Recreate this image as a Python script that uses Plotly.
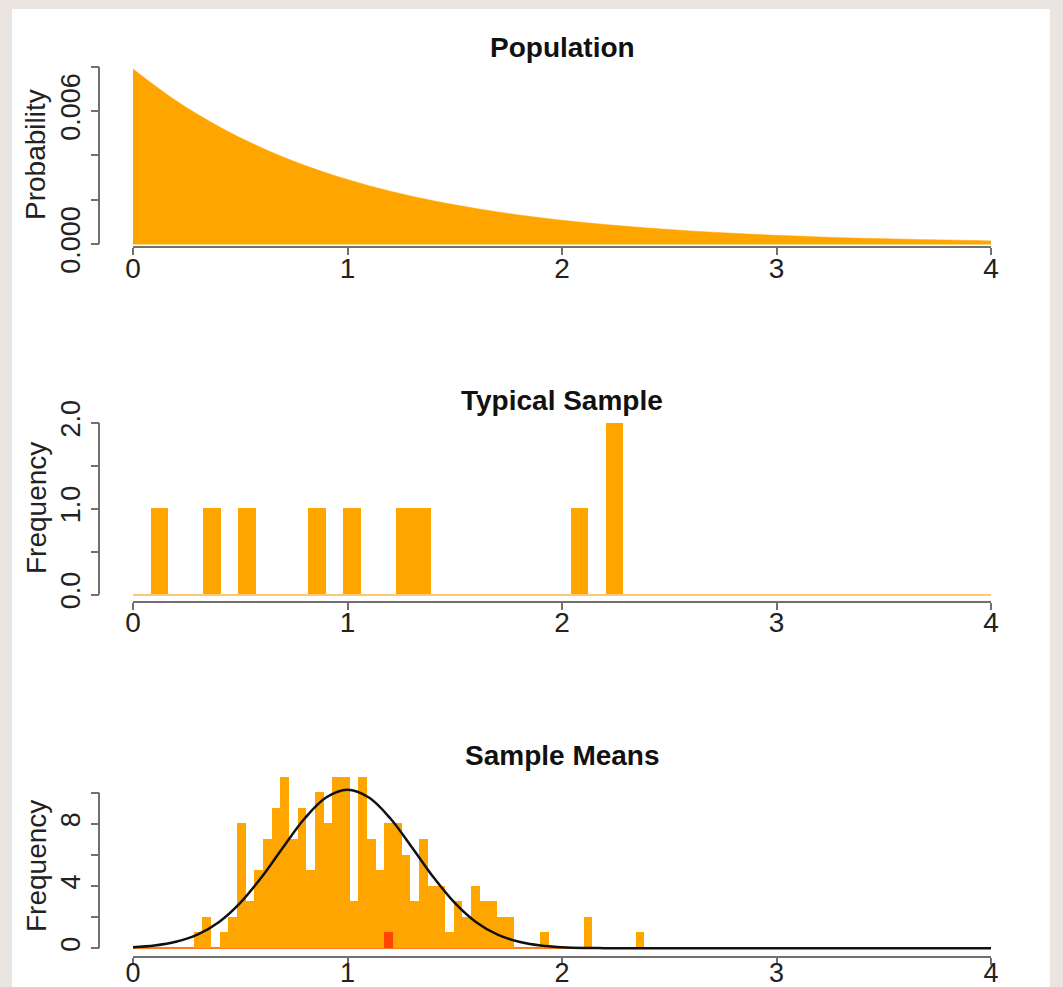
import plotly.graph_objects as go

W, H = 1063, 987

# ---------------- data ----------------
# Population distribution (probability per fine bin)
pop_x = [0.0, 0.2, 0.4, 0.6, 0.8, 1.0, 1.2, 1.4, 1.6, 1.8, 2.0,
         2.2, 2.4, 2.6, 2.8, 3.0, 3.2, 3.4, 3.6, 3.8, 4.0]
pop_prob = [0.00790, 0.00647, 0.00530, 0.00434, 0.00355, 0.00291, 0.00238,
            0.00195, 0.00160, 0.00131, 0.00107, 0.00088, 0.00072, 0.00059,
            0.00048, 0.00039, 0.00032, 0.00026, 0.00022, 0.00018, 0.00014]

# Typical sample histogram (49 bins over 0..4)
sample_bin_width = 4 / 49
sample_bins = [1, 4, 6, 10, 12, 15, 16, 25, 27]
sample_freq = [1, 1, 1, 1, 1, 1, 1, 1, 2]

# Sample means histogram (99 bins over 0..4), bins 7..58
means_bin_width = 4 / 99
means_first_bin = 7
means_freq = [1, 2, 0, 1, 2, 8, 3, 5, 7, 9, 11, 7, 9, 5, 10, 8, 11, 11, 3, 11,
              7, 5, 8, 8, 6, 3, 7, 4, 4, 1, 3, 2, 4, 3, 3, 2, 2, 0, 0, 0,
              1, 0, 0, 0, 0, 2, 0, 0, 0, 0, 0, 1]
highlight_bin = 29
highlight_freq = 1

# Normal approximation curve
curve_x = [0.0, 0.1, 0.2, 0.3, 0.4, 0.5, 0.6, 0.7, 0.8, 0.9, 1.0, 1.1, 1.2,
           1.3, 1.4, 1.5, 1.6, 1.7, 1.8, 1.9, 2.0, 2.1, 2.2, 2.5, 3.0, 3.5, 4.0]
curve_y = [0.07, 0.18, 0.42, 0.88, 1.68, 2.92, 4.58, 6.50, 8.34, 9.69, 10.19,
           9.69, 8.34, 6.50, 4.58, 2.92, 1.68, 0.88, 0.42, 0.18, 0.07, 0.02,
           0.01, 0.0, 0.0, 0.0, 0.0]

x_ticks = [0, 1, 2, 3, 4]
titles = ["Population", "Typical Sample", "Sample Means"]
ylabels = ["Probability", "Frequency", "Frequency"]

# ---------------- helpers ----------------
def px(x):
    return x / W


def py(y):
    return 1 - y / H


ORANGE = "#FFA500"
AXIS = "#707070"
BEIGE = "#EBE5E1"
FONT = "Liberation Sans, Arial, Helvetica, sans-serif"

fig = go.Figure()

fig.add_trace(go.Scatter(x=pop_x, y=pop_prob, mode="lines", fill="tozeroy",
                         fillcolor=ORANGE,
                         line=dict(color=ORANGE, width=0.5, shape="spline"),
                         xaxis="x", yaxis="y", hoverinfo="skip"))

fig.add_trace(go.Bar(x=[(b + 0.5) * sample_bin_width for b in sample_bins],
                     y=sample_freq, width=sample_bin_width,
                     marker=dict(color=ORANGE, line=dict(width=0)),
                     xaxis="x2", yaxis="y2"))

fig.add_trace(go.Bar(x=[(means_first_bin + i + 0.5) * means_bin_width
                        for i in range(len(means_freq))],
                     y=means_freq, width=means_bin_width,
                     marker=dict(color=ORANGE, line=dict(width=0)),
                     xaxis="x3", yaxis="y3"))

fig.add_trace(go.Bar(x=[(highlight_bin + 0.5) * means_bin_width],
                     y=[highlight_freq], width=means_bin_width,
                     marker=dict(color="#FF4500", line=dict(width=0)),
                     xaxis="x3", yaxis="y3"))

fig.add_trace(go.Scatter(x=curve_x, y=curve_y, mode="lines",
                         line=dict(color="#111111", width=2.5, shape="spline"),
                         xaxis="x3", yaxis="y3", hoverinfo="skip"))

panels = [
    dict(zero=244.0, ppu=177.3 / 0.008, rng=[-0.0002, 0.0085], xline=247,
         tv=[0, 0.002, 0.004, 0.006, 0.008], tt=["0.000", "", "", "0.006", ""],
         ytop=0.008, zc="#F2D77E", zw=1.5, ty=47, ly=155, so=-11),
    dict(zero=594.5, ppu=85.9, rng=[-0.05, 2.1], xline=601.5,
         tv=[0, 0.5, 1, 1.5, 2], tt=["0.0", "", "1.0", "", "2.0"],
         ytop=2, zc="#FFC870", zw=2, ty=401, ly=508, so=-11),
    dict(zero=948.3, ppu=15.56, rng=[-0.3, 11.5], xline=956.5,
         tv=[0, 2, 4, 6, 8, 10], tt=["0", "", "4", "", "8", ""],
         ytop=10, zc="#FF7A20", zw=2, ty=755, ly=866, so=-15),
]

shapes = [dict(type="rect", xref="paper", yref="paper", x0=px(12), x1=px(1050),
               y0=0, y1=py(9), fillcolor="white", line=dict(width=0), layer="below")]
annotations = []

for i, p in enumerate(panels):
    sfx = "" if i == 0 else str(i + 1)
    bottom_px = p["zero"] - p["rng"][0] * p["ppu"]
    top_px = p["zero"] - p["rng"][1] * p["ppu"]
    fig.layout["xaxis" + sfx] = dict(
        domain=[px(133), px(991)], range=[0, 4], anchor="free",
        position=py(p["xline"]), showline=True, linecolor=AXIS, linewidth=2,
        ticks="outside", ticklen=7, tickwidth=2, tickcolor=AXIS,
        tickvals=x_ticks, ticktext=[str(t) for t in x_ticks],
        ticklabelstandoff=p["so"],
        tickfont=dict(size=28 if i < 2 else 27, color="#222222", family=FONT),
        showgrid=False, zeroline=False, fixedrange=True, automargin=False)
    fig.layout["yaxis" + sfx] = dict(
        domain=[py(bottom_px), py(top_px)], range=p["rng"], anchor="free",
        position=px(99), showline=False, ticks="outside", ticklen=8,
        tickwidth=2, tickcolor=AXIS, tickvals=p["tv"], ticktext=p["tt"],
        tickangle=-90, tickfont=dict(size=27, color="#222222", family=FONT),
        showgrid=False, zeroline=True, zerolinecolor=p["zc"],
        zerolinewidth=p["zw"], fixedrange=True, automargin=False)
    shapes.append(dict(type="line", xref="paper", yref="y" + sfx,
                       x0=px(99), x1=px(99), y0=0, y1=p["ytop"],
                       line=dict(color=AXIS, width=2)))
    annotations.append(dict(text="<b>" + titles[i] + "</b>", xref="paper",
                            yref="paper", x=px(562), y=py(p["ty"]),
                            xanchor="center", yanchor="middle", showarrow=False,
                            font=dict(size=28, color="#111111", family=FONT)))
    annotations.append(dict(text=ylabels[i], xref="paper", yref="paper",
                            x=px(36), y=py(p["ly"]), textangle=-90,
                            xanchor="center", yanchor="middle", showarrow=False,
                            font=dict(size=28, color="#222222", family=FONT)))

fig.update_layout(
    width=W, height=H, autosize=False,
    margin=dict(l=0, r=0, t=0, b=0, pad=0, autoexpand=False),
    paper_bgcolor=BEIGE, plot_bgcolor="rgba(0,0,0,0)",
    showlegend=False, barmode="overlay", bargap=0,
    shapes=shapes, annotations=annotations,
    font=dict(family=FONT),
)

fig.write_html(
    "out.html",
    config={"displayModeBar": False},
    post_script=("document.body.style.margin='0';"
                 "document.body.style.padding='0';"
                 "document.body.style.overflow='hidden';"
                 "document.body.style.background='" + BEIGE + "';"),
)
